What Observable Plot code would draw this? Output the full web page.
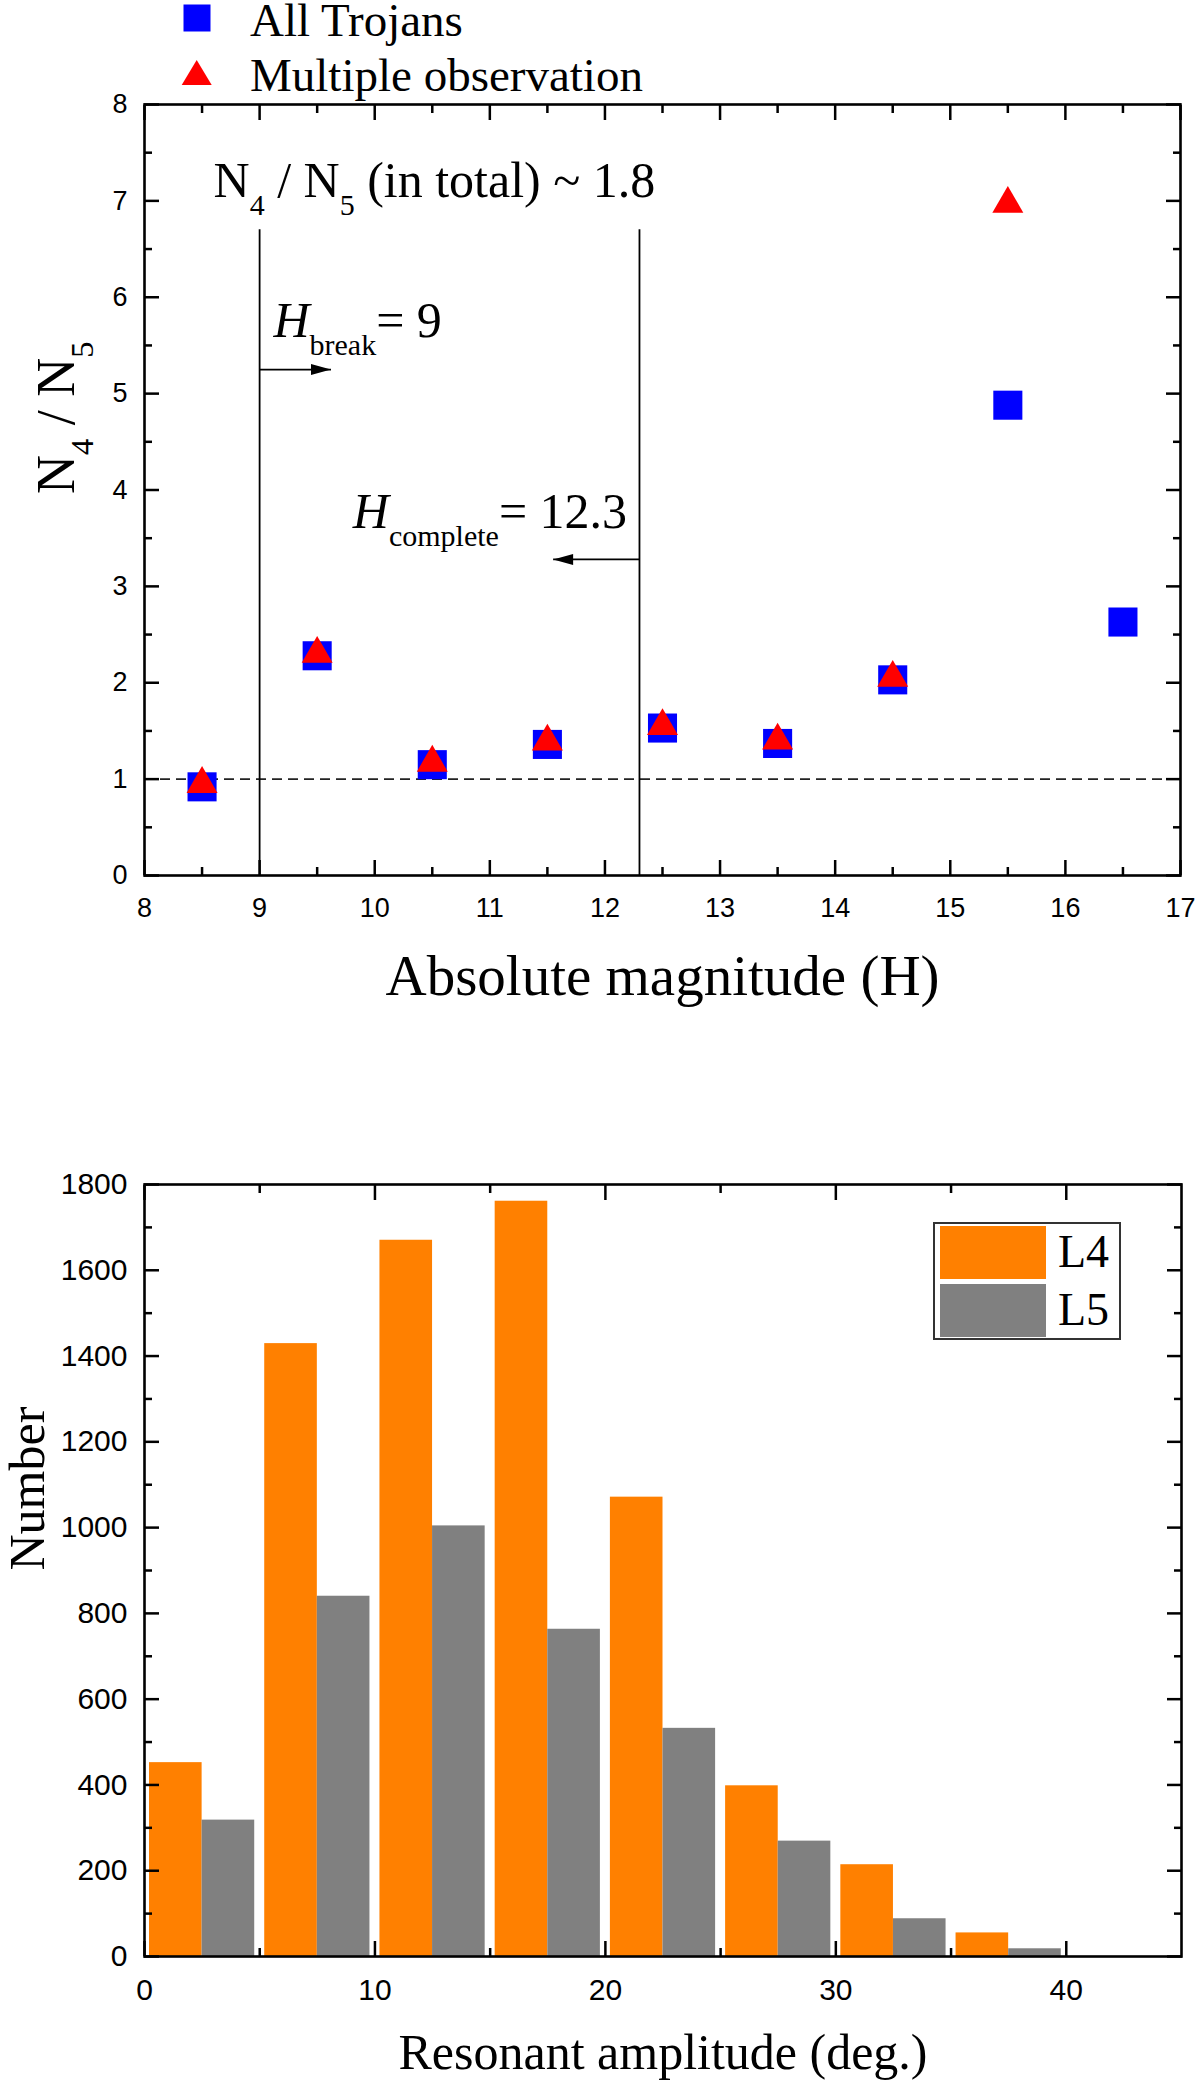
<!DOCTYPE html>
<html>
<head>
<meta charset="utf-8">
<script src="https://cdn.jsdelivr.net/npm/d3@7"></script>
<script src="https://cdn.jsdelivr.net/npm/@observablehq/plot@0.6"></script>
<style>
  body { margin: 0; background: #fff; overflow: hidden; }
  #page { position: relative; width: 1200px; height: 2082px; }
  #page svg { display: block; }
  #legend1 { position: absolute; left: 0; top: 0; overflow: visible; }
  #legend2 { position: absolute; left: 933px; top: 1222px; }
</style>
</head>
<body>
<div id="page">
  <div id="chart1"></div>
  <div id="chart2"></div>
  <svg id="legend1" width="520" height="100"></svg>
  <svg id="legend2" width="188" height="118"></svg>
</div>
<script>
// --- top panel: N4/N5 per absolute magnitude bin
const hBins = [8.5, 9.5, 10.5, 11.5, 12.5, 13.5, 14.5, 15.5, 16.5]
const ratioAll = [0.92, 2.28, 1.15, 1.36, 1.53, 1.37, 2.03, 4.88, 2.63]
const hBinsMulti = [8.5, 9.5, 10.5, 11.5, 12.5, 13.5, 14.5, 15.5]
const ratioMulti = [0.95, 2.30, 1.17, 1.39, 1.55, 1.40, 2.05, 6.97]
const seriesTop = ['All Trojans', 'Multiple observation']
const colorsTop = ['#0000ff', '#ff0000']

const hLines = [9, 12.3]     // H_break, H_complete
const parity = 1
const arrowX1 = [9, 12.3]
const arrowX2 = [9.62, 11.55]
const arrowY = [5.25, 3.28]
const notes = ['N_{4} / N_{5} (in total) ~ 1.8', '*H*_{break}= 9', '*H*_{complete}= 12.3']
const noteX = [8.6, 9.12, 9.81]
const noteY = [7.04, 5.59, 3.61]

const xTicksTop = [8, 9, 10, 11, 12, 13, 14, 15, 16, 17]
const xMinorTop = [8.5, 9.5, 10.5, 11.5, 12.5, 13.5, 14.5, 15.5, 16.5]
const yTicksTop = [0, 1, 2, 3, 4, 5, 6, 7, 8]
const yMinorTop = [0.5, 1.5, 2.5, 3.5, 4.5, 5.5, 6.5, 7.5]

// --- bottom panel: resonant amplitude histogram
const binStart = [0, 5, 10, 15, 20, 25, 30, 35]
const binWidth = 5
const countL4 = [452, 1429, 1670, 1761, 1071, 398, 214, 55]
const countL5 = [318, 840, 1004, 763, 532, 269, 88, 18]
const seriesBottom = ['L4', 'L5']
const colorsBottom = ['#ff8000', '#808080']

const xTicksBot = [0, 10, 20, 30, 40]
const xMinorBot = [5, 15, 25, 35]
const yTicksBot = [0, 200, 400, 600, 800, 1000, 1200, 1400, 1600, 1800]
const yMinorBot = [100, 300, 500, 700, 900, 1100, 1300, 1500, 1700]

const serif = '"Liberation Serif", "Times New Roman", serif'
const sans = '"Liberation Sans", Arial, sans-serif'

// inward ticks on all four sides, labels only bottom/left
function boxAxes(xMaj, xMin, yMaj, yMin, fontSize) {
  const t = {stroke: 'black', strokeWidth: 2.5, fill: 'none', label: null}
  const fmt = d3.format('d')
  return [
    ...['bottom', 'top'].flatMap(anchor => [
      Plot.axisX(xMaj, {...t, anchor, tickSize: -15}),
      Plot.axisX(xMin, {...t, anchor, tickSize: -8})
    ]),
    ...['left', 'right'].flatMap(anchor => [
      Plot.axisY(yMaj, {...t, anchor, tickSize: -15}),
      Plot.axisY(yMin, {...t, anchor, tickSize: -8})
    ]),
    Plot.axisX(xMaj, {anchor: 'bottom', tickSize: 0, tickPadding: 22, fontSize, tickFormat: fmt, label: null}),
    Plot.axisY(yMaj, {anchor: 'left', tickSize: 0, tickPadding: 17, fontSize, tickFormat: fmt, label: null})
  ]
}

// turns "_{sub}" into subscripts and "*x*" into italics
function richText(svg) {
  d3.select(svg).selectAll('text').each(function () {
    const s = this.textContent
    if (!/_\{|\*/.test(s)) return
    const el = d3.select(this).text(null)
    let low = false
    for (const part of s.split(/(\*[^*]+\*|_\{[^}]+\})/)) {
      if (!part) continue
      const t = el.append('tspan')
      if (part.startsWith('_{')) {
        t.text(part.slice(2, -1)).attr('font-size', '0.6em').attr('dy', '0.6em')
        low = true
      } else {
        if (low) { t.attr('dy', '-0.36em'); low = false }
        if (part.startsWith('*')) t.text(part.slice(1, -1)).attr('font-style', 'italic')
        else t.text(part)
      }
    }
  })
}

const headRight = {draw(c) { c.moveTo(0, 0); c.lineTo(-20, -5.5); c.lineTo(-20, 5.5); c.closePath() }}
const headLeft = {draw(c) { c.moveTo(0, 0); c.lineTo(20, -5.5); c.lineTo(20, 5.5); c.closePath() }}

const ptsAll = hBins.map((h, i) => ({h, r: ratioAll[i]}))
const ptsMulti = hBinsMulti.map((h, i) => ({h, r: ratioMulti[i]}))
const arrows = arrowX1.map((x1, i) => ({x1, x2: arrowX2[i], y: arrowY[i]}))
const noteRows = notes.map((t, i) => ({t, x: noteX[i], y: noteY[i]}))

let chartTop = Plot.plot({
  width: 1200,
  height: 1050,
  marginTop: 104,
  marginRight: 20,
  marginBottom: 175,
  marginLeft: 144,
  style: {fontFamily: sans, color: 'black', background: 'white', overflow: 'visible'},
  x: {domain: [8, 17]},
  y: {domain: [0, 8]},
  marks: [
    Plot.ruleY([parity], {stroke: '#222', strokeWidth: 1.6, strokeDasharray: '10,6'}),
    Plot.ruleX(hLines, {y1: 0, y2: 6.7, stroke: 'black', strokeWidth: 1.8}),
    Plot.link(arrows, {x1: 'x1', x2: 'x2', y1: 'y', y2: 'y', stroke: 'black', strokeWidth: 1.7}),
    Plot.dot(arrows.filter(d => d.x2 > d.x1), {x: 'x2', y: 'y', symbol: headRight, r: 5, fill: 'black', stroke: 'none'}),
    Plot.dot(arrows.filter(d => d.x2 < d.x1), {x: 'x2', y: 'y', symbol: headLeft, r: 5, fill: 'black', stroke: 'none'}),
    Plot.text(noteRows, {x: 'x', y: 'y', text: 't', textAnchor: 'start', lineAnchor: 'bottom', fontSize: 50, fontFamily: serif, fill: 'black'}),
    Plot.dot(ptsAll, {x: 'h', y: 'r', symbol: 'square', r: 16.4, fill: colorsTop[0], stroke: 'none'}),
    Plot.dot(ptsMulti, {x: 'h', y: 'r', symbol: 'triangle', r: 11.5, fill: colorsTop[1], stroke: 'none'}),
    Plot.frame({stroke: 'black', strokeWidth: 2.6}),
    ...boxAxes(xTicksTop, xMinorTop, yTicksTop, yMinorTop, 27),
    Plot.text(['Absolute magnitude (H)'], {text: d => d, frameAnchor: 'bottom', dy: 119, lineAnchor: 'bottom', fontSize: 57, fontFamily: serif}),
    Plot.text(['N_{4} / N_{5}'], {text: d => d, frameAnchor: 'left', rotate: -90, dx: -71, dy: 4, lineAnchor: 'bottom', fontSize: 54, fontFamily: serif})
  ]
})
richText(chartTop)
d3.select('#chart1').append(() => chartTop)

const rows = binStart.map((b, i) => ({b, l4: countL4[i], l5: countL5[i]}))

let chartBottom = Plot.plot({
  width: 1200,
  height: 1032,
  marginTop: 134,
  marginRight: 19,
  marginBottom: 126,
  marginLeft: 144,
  style: {fontFamily: sans, color: 'black', background: 'white', overflow: 'visible'},
  x: {domain: [0, 45]},
  y: {domain: [0, 1800]},
  marks: [
    Plot.rectY(rows, {x1: 'b', x2: d => d.b + binWidth / 2, y: 'l4', fill: colorsBottom[0], insetLeft: 5}),
    Plot.rectY(rows, {x1: d => d.b + binWidth / 2, x2: d => d.b + binWidth, y: 'l5', fill: colorsBottom[1], insetRight: 5}),
    Plot.frame({stroke: 'black', strokeWidth: 2.6}),
    ...boxAxes(xTicksBot, xMinorBot, yTicksBot, yMinorBot, 30),
    Plot.text(['Resonant amplitude (deg.)'], {text: d => d, frameAnchor: 'bottom', dy: 112, lineAnchor: 'bottom', fontSize: 50, fontFamily: serif}),
    Plot.text(['Number'], {text: d => d, frameAnchor: 'left', rotate: -90, dx: -101, lineAnchor: 'bottom', fontSize: 50, fontFamily: serif})
  ]
})
d3.select('#chart2').append(() => chartBottom)

// legends
const leg1 = d3.select('#legend1')
leg1.append('rect').attr('x', 183.5).attr('y', 4.5).attr('width', 27).attr('height', 27).attr('fill', colorsTop[0])
leg1.append('path').attr('d', 'M196.7,60L211.7,85L181.7,85Z').attr('fill', colorsTop[1])
leg1.selectAll('text').data(seriesTop).join('text')
  .attr('x', 250).attr('y', (d, i) => [36, 91][i])
  .attr('font-family', serif).attr('font-size', 47).text(d => d)

const leg2 = d3.select('#legend2')
leg2.append('rect').attr('x', 1).attr('y', 1).attr('width', 186).attr('height', 116)
  .attr('fill', 'white').attr('stroke', '#333').attr('stroke-width', 2)
seriesBottom.forEach((s, i) => {
  leg2.append('rect').attr('x', 7).attr('y', [4, 62][i]).attr('width', 106).attr('height', 53).attr('fill', colorsBottom[i])
  leg2.append('text').attr('x', 125).attr('y', [45, 103][i])
    .attr('font-family', serif).attr('font-size', 46).text(s)
})
</script>
</body>
</html>
